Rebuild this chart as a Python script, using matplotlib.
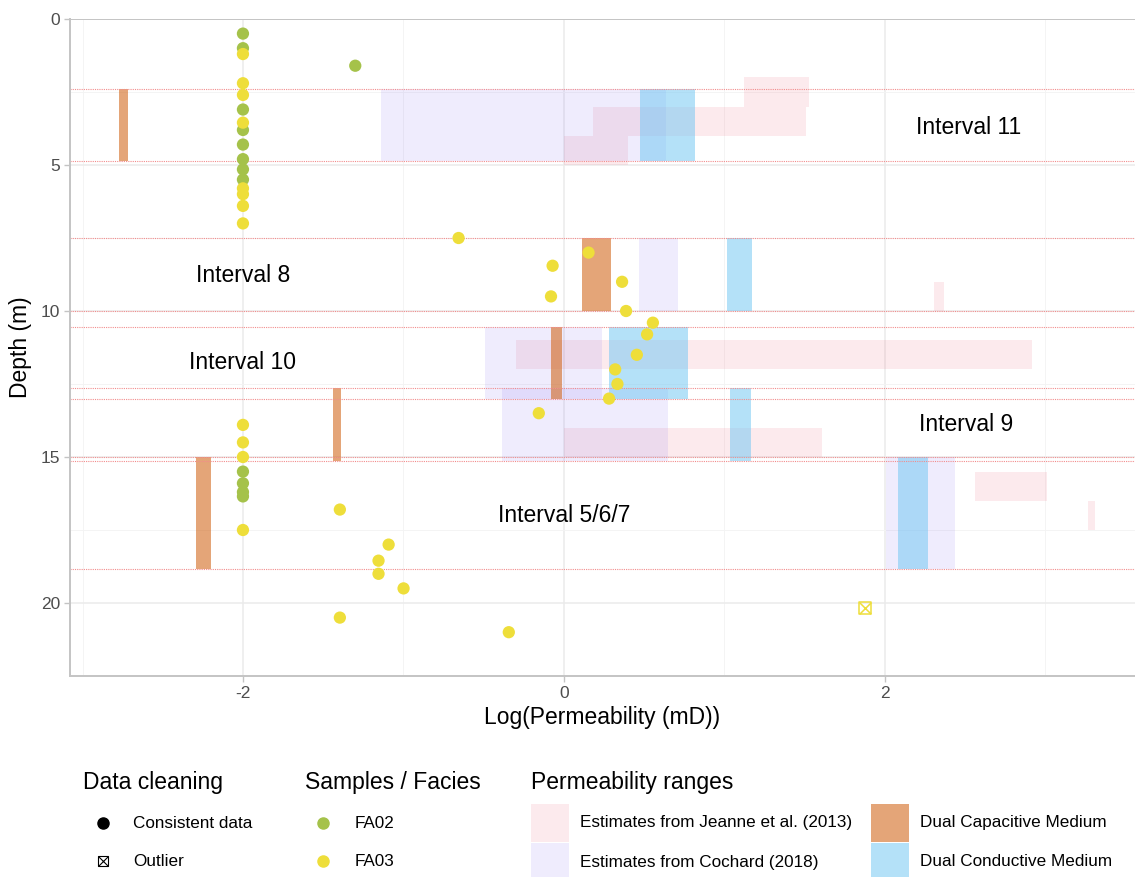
import matplotlib
matplotlib.use("Agg")
import matplotlib.pyplot as plt
from matplotlib.patches import Rectangle
from matplotlib.lines import Line2D

plt.rcParams['font.family'] = ['Liberation Sans', 'DejaVu Sans']
plt.rcParams['axes.unicode_minus'] = False

# sample points (log permeability in mD, depth in m)
fa02_perm = [-2, -2, -1.3, -2, -2, -2, -2, -2, -2, -2, -2, -2, -2]
fa02_depth = [0.5, 1.0, 1.6, 3.1, 3.8, 4.3, 4.8, 5.15, 5.5, 15.5, 15.9, 16.2, 16.35]

fa03_perm = [-2, -2, -2, -2, -2, -2, -2, -2,
             -0.656, 0.154, -0.07, 0.363, -0.08, 0.388, 0.555, 0.519, 0.455,
             0.32, 0.334, 0.282, -0.156,
             -2, -2, -2, -1.396, -2, -1.092, -1.155, -1.155, -0.999, -1.396, -0.343]
fa03_depth = [1.2, 2.2, 2.6, 3.55, 5.8, 6.0, 6.4, 7.0,
              7.5, 8.0, 8.45, 9.0, 9.5, 10.0, 10.4, 10.8, 11.5,
              12.0, 12.5, 13.0, 13.5,
              13.9, 14.5, 15.0, 16.8, 17.5, 18.0, 18.55, 19.0, 19.5, 20.5, 21.0]

outlier_perm = [1.877]
outlier_depth = [20.18]

# intervals
intervals = ['Interval 11', 'Interval 8', 'Interval 10', 'Interval 9', 'Interval 5/6/7']
interval_top = [2.4, 7.5, 10.55, 12.65, 15.0]
interval_bottom = [4.87, 10.0, 13.0, 15.12, 18.84]
label_x = [2.52, -2.0, -2.0, 2.51, 0.0]
label_y = [3.7, 8.77, 11.78, 13.9, 17.0]

cochard_min = [-1.14, 0.467, -0.49, -0.384, 2.01]
cochard_max = [0.636, 0.714, 0.235, 0.648, 2.44]
capacitive_min = [-2.775, 0.112, -0.077, -1.441, -2.295]
capacitive_max = [-2.715, 0.293, -0.011, -1.388, -2.199]
conductive_min = [0.474, 1.016, 0.28, 1.036, 2.083]
conductive_max = [0.816, 1.171, 0.777, 1.165, 2.272]

# Jeanne et al. (2013) estimates per depth bin
jeanne_top = [2.0, 3.0, 4.0, 9.0, 11.0, 14.0, 15.5, 16.5]
jeanne_bottom = [3.0, 4.0, 5.0, 10.0, 12.0, 15.0, 16.5, 17.5]
jeanne_min = [1.12, 0.18, 0.0, 2.31, -0.30, 0.0, 2.56, 3.27]
jeanne_max = [1.53, 1.51, 0.40, 2.37, 2.92, 1.61, 3.01, 3.31]

c_jeanne = ('#EB3755', 0.1)
c_cochard = ('#9480F2', 0.15)
c_capac = ('chocolate', 0.6)
c_cond = ('#6BC5F3', 0.5)
green = '#A5C24A'
yellow = '#EEDE3A'

W, H = 1135, 877
fig = plt.figure(figsize=(W / 100, H / 100), dpi=100)
ax = fig.add_axes([70 / W, 1 - 676 / H, 1 - 70 / W, (676 - 19) / H])

def bars(x0, x1, y0, y1, col, z):
    for a, b, t, u in zip(x0, x1, y0, y1):
        ax.add_patch(Rectangle((a, t), b - a, u - t, facecolor=col[0],
                               alpha=col[1], edgecolor='none', zorder=z))

bars(jeanne_min, jeanne_max, jeanne_top, jeanne_bottom, c_jeanne, 2)
bars(cochard_min, cochard_max, interval_top, interval_bottom, c_cochard, 2.1)
bars(capacitive_min, capacitive_max, interval_top, interval_bottom, c_capac, 2.2)
bars(conductive_min, conductive_max, interval_top, interval_bottom, c_cond, 2.3)

for d in interval_top + interval_bottom:
    ax.axhline(d, color='#F28C8C', lw=0.8, ls=(0, (1, 1)), zorder=2.5)

ax.scatter(fa02_perm, fa02_depth, s=78, color=green, edgecolors='none', zorder=4)
ax.scatter(fa03_perm, fa03_depth, s=78, color=yellow, edgecolors='none', zorder=4)
ax.scatter(outlier_perm, outlier_depth, s=70, marker='s', facecolors='none',
           edgecolors=yellow, linewidths=1.1, zorder=4)
ax.scatter(outlier_perm, outlier_depth, s=70, marker='x', color=yellow,
           linewidths=1.1, zorder=4)

for name, lx, ly in zip(intervals, label_x, label_y):
    ax.text(lx, ly, name, ha='center', va='center', fontsize=16.5, color='black', zorder=5)

ax.set_xlim(-3.078, 3.56)
ax.set_ylim(22.5, 0)
ax.set_xticks([-2, 0, 2])
ax.set_xticks([-3, -1, 1, 3], minor=True)
ax.set_yticks([0, 5, 10, 15, 20])
ax.set_yticks([2.5, 7.5, 12.5, 17.5], minor=True)
ax.grid(which='major', color='#EBEBEB', lw=1.1, zorder=0)
ax.grid(which='minor', color='#F3F3F3', lw=0.6, zorder=0)
ax.set_axisbelow(True)
for s in ['right', 'top']:
    ax.spines[s].set_visible(False)
for s in ['left', 'bottom']:
    ax.spines[s].set_color('#C4C4C4')
    ax.spines[s].set_linewidth(1.4)
ax.axhline(0, color='#C4C4C4', lw=1.4, zorder=1)
ax.tick_params(which='major', length=4, width=1, color='#C4C4C4',
               labelsize=12.5, labelcolor='#4D4D4D', pad=3)
ax.tick_params(which='minor', length=0)
ax.set_xlabel('Log(Permeability (mD))', fontsize=16.5, labelpad=4)
ax.set_ylabel('Depth (m)', fontsize=16.5, labelpad=6)

# legends along the bottom, laid out in figure pixels
def fx(px):
    return px / W

def fy(py):
    return 1 - py / H

def ftext(x, y, s, size):
    fig.text(fx(x), fy(y), s, fontsize=size, ha='left', va='center')

ftext(83, 783, 'Data cleaning', 16.5)
fig.add_artist(Line2D([fx(103)], [fy(823)], marker='o', ms=8, color='black', ls='none'))
fig.add_artist(Line2D([fx(103)], [fy(861)], marker='s', ms=7.5, mfc='none', mec='black',
                      mew=0.8, ls='none'))
fig.add_artist(Line2D([fx(103)], [fy(861)], marker='x', ms=7.5, color='black',
                      mew=0.8, ls='none'))
ftext(133, 823, 'Consistent data', 12.3)
ftext(133, 861, 'Outlier', 12.3)

ftext(305, 783, 'Samples / Facies', 16.5)
fig.add_artist(Line2D([fx(323)], [fy(823)], marker='o', ms=8, color=green, ls='none'))
fig.add_artist(Line2D([fx(323)], [fy(861)], marker='o', ms=8, color=yellow, ls='none'))
ftext(355, 823, 'FA02', 12.3)
ftext(355, 861, 'FA03', 12.3)

ftext(531, 783, 'Permeability ranges', 16.5)
keys = [(531, 804, c_jeanne, 'Estimates from Jeanne et al. (2013)'),
        (531, 843, c_cochard, 'Estimates from Cochard (2018)'),
        (871, 804, c_capac, 'Dual Capacitive Medium'),
        (871, 843, c_cond, 'Dual Conductive Medium')]
for kx, ky, col, lab in keys:
    fig.add_artist(Rectangle((fx(kx), fy(ky + 38)), 38 / W, 38 / H, facecolor=col[0],
                             alpha=col[1], edgecolor='none', transform=fig.transFigure))
    ftext(kx + 49, ky + 19, lab, 12.3)

fig.savefig('out.png', dpi=100)
